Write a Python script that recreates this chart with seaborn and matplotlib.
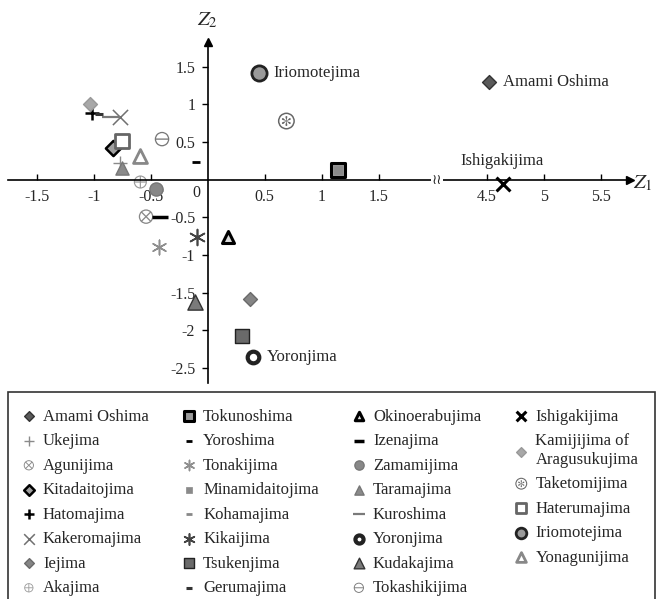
import matplotlib
matplotlib.use("Agg")
import matplotlib.pyplot as plt
import seaborn as sns
from matplotlib.lines import Line2D

# island scores on the first two components (legend order)
islands = ["Amami Oshima", "Ukejima", "Agunijima", "Kitadaitojima", "Hatomajima",
           "Kakeromajima", "Iejima", "Akajima",
           "Tokunoshima", "Yoroshima", "Tonakijima", "Minamidaitojima", "Kohamajima",
           "Kikaijima", "Tsukenjima", "Gerumajima",
           "Okinoerabujima", "Izenajima", "Zamamijima", "Taramajima", "Kuroshima",
           "Yoronjima", "Kudakajima", "Tokashikijima",
           "Ishigakijima", "Kamijijima of\nAragusukujima", "Taketomijima", "Haterumajima",
           "Iriomotejima", "Yonagunijima"]
z1 = [4.52, -0.77, -0.54, -0.83, -1.01, -0.77, 0.37, -0.59,
      1.14, -0.10, -0.43, 1.14, -0.43, -0.09, 0.30, -0.95,
      0.18, -0.42, -0.45, -0.75, -0.85, 0.40, -0.11, -0.40,
      4.64, -1.03, 0.69, -0.75, 0.45, -0.59]
z2 = [1.30, 0.22, -0.49, 0.42, 0.89, 0.84, -1.59, -0.03,
      0.13, 0.23, -0.89, 0.13, -0.13, -0.76, -2.07, 0.88,
      -0.76, -0.49, -0.12, 0.16, 0.84, -2.36, -1.63, 0.54,
      -0.05, 1.01, 0.78, 0.52, 1.42, 0.32]
labelled = ["Amami Oshima", "Ishigakijima", "Iriomotejima", "Yoronjima"]

xticks_left = [-1.5, -1, -0.5, 0.5, 1, 1.5]
xticks_right = [4.5, 5, 5.5]
yticks = [-2.5, -2, -1.5, -1, -0.5, 0.5, 1, 1.5]

# marker styles: marker, size, face, edge, linewidth
sty = {
    "Amami Oshima": ("D", 50, "#5a5a5a", "#333333", 1),
    "Ukejima": ("+", 90, "#8a8a8a", None, 1),
    "Agunijima": ("$\\otimes$", 110, "#888888", "none", 0),
    "Kitadaitojima": ("D", 60, "#a0a0a0", "black", 1.8),
    "Hatomajima": ("+", 100, "black", None, 1.8),
    "Kakeromajima": ("x", 120, "#707070", None, 1.1),
    "Iejima": ("D", 50, "#858585", "#6a6a6a", 1),
    "Akajima": ("$\\oplus$", 90, "#999999", "none", 0),
    "Tokunoshima": ("s", 90, "#9a9a9a", "black", 2.2),
    "Yoroshima": ("_", 40, "black", None, 2),
    "Tonakijima": ((6, 2, 0), 110, "#8f8f8f", None, 1.1),
    "Minamidaitojima": ("s", 30, "#8a8a8a", "#8a8a8a", 0.5),
    "Kohamajima": ("_", 30, "#888888", None, 2),
    "Kikaijima": ((6, 2, 0), 130, "#444444", None, 1.2),
    "Tsukenjima": ("s", 110, "#6a6a6a", "#222222", 1),
    "Gerumajima": ("_", 40, "#333333", None, 2.2),
    "Okinoerabujima": ("^", 75, "#dddddd", "black", 2.2),
    "Izenajima": ("_", 120, "black", None, 2.5),
    "Zamamijima": ("o", 90, "#888888", "#777777", 1),
    "Taramajima": ("^", 90, "#8a8a8a", "#777777", 1),
    "Kuroshima": ("_", 150, "#7a7a7a", None, 1.6),
    "Yoronjima": ("o", 70, "white", "#222222", 3),
    "Kudakajima": ("^", 120, "#7a7a7a", "#333333", 1),
    "Tokashikijima": ("$\\ominus$", 110, "#777777", "none", 0),
    "Ishigakijima": ("x", 100, "black", None, 2.2),
    "Kamijijima of\nAragusukujima": ("D", 50, "#a8a8a8", "#999999", 1),
    "Taketomijima": ("$\\circledast$", 150, "#666666", "none", 0),
    "Haterumajima": ("s", 100, "white", "#666666", 2),
    "Iriomotejima": ("o", 120, "#9a9a9a", "#222222", 2),
    "Yonagunijima": ("^", 100, "white", "#888888", 2),
}

sns.set_style("white")
plt.rcParams["font.family"] = ["Liberation Serif", "DejaVu Serif"]
plt.rcParams["mathtext.fontset"] = "stix"
plt.rcParams["axes.unicode_minus"] = False

W, H = 659, 599
fig = plt.figure(figsize=(W / 100, H / 100), dpi=100)
bot, top = (H - 383) / H, (H - 42) / H
ax1 = fig.add_axes([8 / W, bot, (437 - 8) / W, top - bot])
ax2 = fig.add_axes([437 / W, bot, (630 - 437) / W, top - bot])
ax1.set_xlim(-1.75, 2.01)
ax2.set_xlim(4.06, 5.755)
for ax in (ax1, ax2):
    ax.set_ylim(-2.7, 1.83)
    ax.patch.set_alpha(0)
    for sp in ("top", "right", "left"):
        ax.spines[sp].set_visible(False)
    ax.spines["bottom"].set_position(("data", 0))
    ax.spines["bottom"].set_color("black")
    ax.spines["bottom"].set_linewidth(1.2)
    ax.tick_params(axis="x", direction="in", length=4, width=1, color="black",
                   labelsize=11.5, pad=7, bottom=True)
    for name, x, y in zip(islands, z1, z2):
        m, s, fc, ec, lw = sty[name]
        kw = dict(marker=m, s=s, linewidth=lw, ax=ax, legend=False, label=name)
        if ec is None:
            kw["color"] = fc
        else:
            kw["facecolor"] = fc
            kw["edgecolor"] = ec
        sns.scatterplot(x=[x], y=[y], **kw)

ax1.spines["left"].set_visible(True)
ax1.spines["left"].set_position(("data", 0))
ax1.spines["left"].set_color("black")
ax1.spines["left"].set_linewidth(1.2)
ax1.set_yticks(yticks)
ax1.set_yticklabels([f"{v:g}" for v in yticks])
ax1.tick_params(axis="y", direction="out", length=4, width=1, color="black",
                labelsize=11.5, pad=5, left=True)
ax1.set_xticks(xticks_left)
ax1.set_xticklabels([f"{v:g}" for v in xticks_left])
ax2.set_xticks(xticks_right)
ax2.set_xticklabels([f"{v:g}" for v in xticks_right])
ax2.set_yticks([])
ax1.text(-0.1, -0.17, "0", ha="center", va="center", fontsize=11.5)

# arrows and axis names
ax2.plot([1], [0], marker=">", color="black", ms=6,
         transform=ax2.get_yaxis_transform(), clip_on=False)
ax1.plot([0], [1], marker="^", color="black", ms=6,
         transform=ax1.get_xaxis_transform(), clip_on=False)
fig.text(207 / W, 1 - 20 / H, "$Z_2$", ha="center", va="center", fontsize=15)
fig.text(643 / W, 1 - 183 / H, "$Z_1$", ha="center", va="center", fontsize=15)
fig.text(437 / W, 1 - 180 / H, "\u2240\u2240", ha="center", va="center",
         fontsize=10, family="DejaVu Sans",
         bbox=dict(facecolor="white", edgecolor="none", pad=0.5))

# point labels
for ax in (ax1, ax2):
    x0, x1 = ax.get_xlim()
    for name, x, y in zip(islands, z1, z2):
        if name in labelled and x0 <= x <= x1:
            if name == "Ishigakijima":
                ax.annotate(name, (x, y), xytext=(-1, 16), textcoords="offset points",
                            ha="center", va="center", fontsize=12)
            else:
                ax.annotate(name, (x, y), xytext=(10, 0), textcoords="offset points",
                            ha="left", va="center", fontsize=12)

handles, labels = ax1.get_legend_handles_labels()
handles.append(Line2D([], [], linestyle="none"))
labels.append("")
leg = fig.legend(handles, labels, ncol=4, loc="upper left",
                 bbox_to_anchor=(8 / W, 0, (655 - 8) / W, 1 - 392 / H),
                 mode="expand", fontsize=12, frameon=True, fancybox=False,
                 edgecolor="black", borderpad=1.0, labelspacing=0.51,
                 handlelength=0.5, handletextpad=0.6, markerscale=0.7,
                 borderaxespad=0)
leg.get_frame().set_linewidth(1.2)

fig.savefig("out.png", dpi=100)
